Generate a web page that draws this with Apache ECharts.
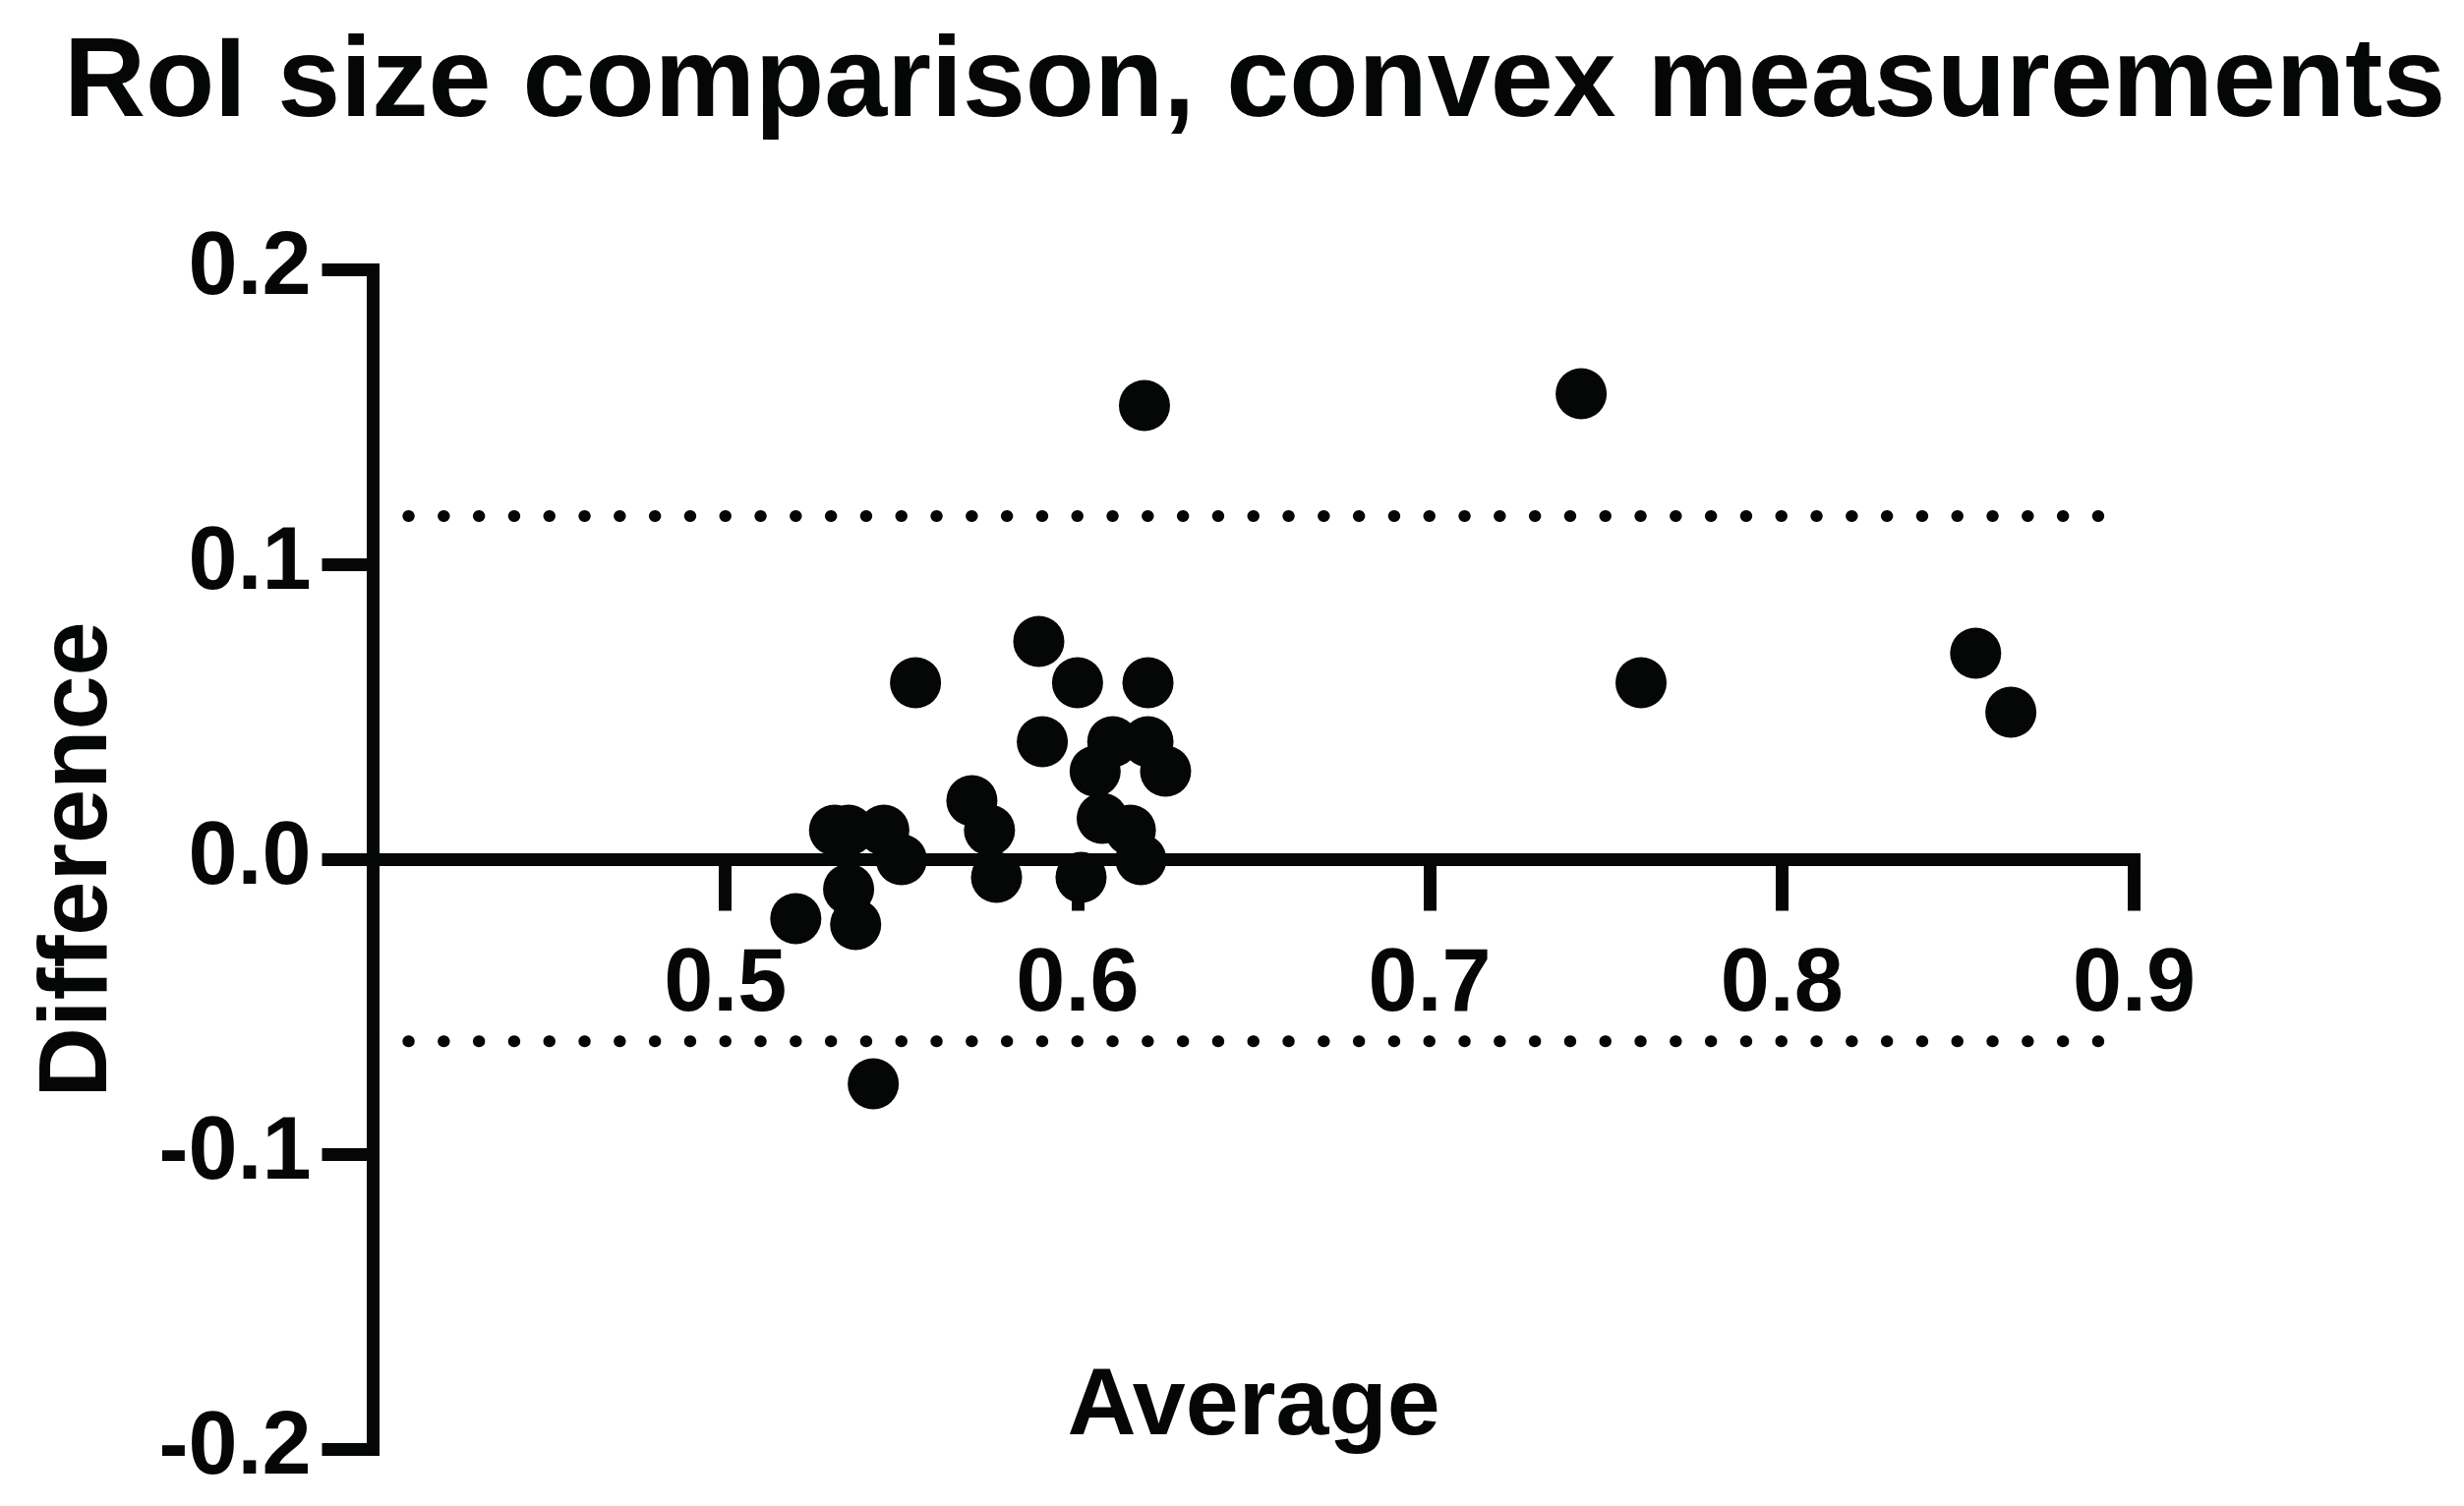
<!DOCTYPE html>
<html>
<head>
<meta charset="utf-8">
<script src="https://cdn.jsdelivr.net/npm/echarts@6/dist/echarts.min.js"></script>
<style>
html,body{margin:0;padding:0;background:#fff;}
#chart{width:2506px;height:1532px;}
</style>
</head>
<body>
<div id="chart"></div>
<script>
// ---- data ----
const titleText = 'RoI size comparison, convex measurements';
const xAxisName = 'Average';
const yAxisName = 'Difference';
const averageValues = [0.520, 0.531, 0.535, 0.545, 0.535, 0.537, 0.550, 0.542, 0.554, 0.570,
                       0.575, 0.577, 0.589, 0.590, 0.600, 0.601, 0.605, 0.607, 0.610, 0.615,
                       0.618, 0.620, 0.620, 0.625, 0.619, 0.743, 0.760, 0.855, 0.865];
const differenceValues = [-0.020, 0.010, 0.010, 0.010, -0.010, -0.022, 0.000, -0.076, 0.060, 0.020,
                          0.010, -0.006, 0.074, 0.040, 0.060, -0.006, 0.030, 0.014, 0.040, 0.010,
                          0.000, 0.040, 0.060, 0.030, 0.154, 0.158, 0.060, 0.070, 0.050];
const upperLimit = 0.1165;
const lowerLimit = -0.0616;
const limitRange = [0.4, 0.89];
const xTicks = [0.4, 0.5, 0.6, 0.7, 0.8, 0.9];
const xTickLabels = ['', '0.5', '0.6', '0.7', '0.8', '0.9'];
const yTicks = [-0.2, -0.1, 0.0, 0.1, 0.2];
const yTickLabels = ['-0.2', '-0.1', '0.0', '0.1', '0.2'];

// ---- chart ----
const INK = '#050706';
const FONT = "'Liberation Sans', Arial, Helvetica, sans-serif";
const points = averageValues.map((v, i) => [v, differenceValues[i]]);

const GRID_TOP = 274.5, GRID_BOTTOM_Y = 1474.5;
const ZERO_Y = (GRID_TOP + GRID_BOTTOM_Y) / 2; // y = 0 sits halfway for a symmetric axis

function labelFor(ticks, labels) {
  return function (v) {
    for (let i = 0; i < ticks.length; i++) {
      if (Math.abs(ticks[i] - v) < 1e-6) return labels[i];
    }
    return '';
  };
}

const chart = echarts.init(document.getElementById('chart'), null, {renderer: 'canvas'});
chart.setOption({
  backgroundColor: '#ffffff',
  animation: false,
  title: {
    text: titleText,
    left: 60,
    top: 24,
    textStyle: {fontFamily: FONT, fontWeight: 'bold', fontSize: 115, color: INK}
  },
  grid: {left: 379.5, right: 335.5, top: GRID_TOP, bottom: 1532 - GRID_BOTTOM_Y,
         containLabel: false, outerBoundsMode: 'none'},
  xAxis: {
    type: 'value',
    min: 0.4, max: 0.9, interval: 0.1,
    position: 'bottom',
    offset: -(GRID_BOTTOM_Y - ZERO_Y),
    name: xAxisName,
    nameLocation: 'middle',
    nameGap: 509,
    nameTextStyle: {fontFamily: FONT, fontWeight: 'bold', fontSize: 97, color: INK},
    axisLine: {show: true, onZero: false, lineStyle: {color: INK, width: 13, cap: 'square'}},
    axisTick: {show: true, inside: false, length: 52, lineStyle: {color: INK, width: 13}},
    axisLabel: {show: true, margin: 84, fontFamily: FONT, fontWeight: 'bold', fontSize: 90, color: INK,
                formatter: labelFor(xTicks, xTickLabels)},
    splitLine: {show: false}
  },
  yAxis: {
    type: 'value',
    min: -0.2, max: 0.2, interval: 0.1,
    name: yAxisName,
    nameLocation: 'middle',
    nameGap: 249,
    nameRotate: 90,
    nameTextStyle: {fontFamily: FONT, fontWeight: 'bold', fontSize: 99, color: INK},
    axisLine: {show: true, onZero: false, lineStyle: {color: INK, width: 13, cap: 'square'}},
    axisTick: {show: true, inside: false, length: 52, lineStyle: {color: INK, width: 13}},
    axisLabel: {show: true, margin: 63, fontFamily: FONT, fontWeight: 'bold', fontSize: 90, color: INK,
                formatter: labelFor(yTicks, yTickLabels)},
    splitLine: {show: false}
  },
  series: [
    {
      type: 'line',
      data: [[limitRange[0], upperLimit], [limitRange[1], upperLimit]],
      symbol: 'none',
      silent: true,
      lineStyle: {color: INK, width: 12, type: [0.5, 35.3], cap: 'round'},
      z: 1
    },
    {
      type: 'line',
      data: [[limitRange[0], lowerLimit], [limitRange[1], lowerLimit]],
      symbol: 'none',
      silent: true,
      lineStyle: {color: INK, width: 12, type: [0.5, 35.3], cap: 'round'},
      z: 1
    },
    {
      type: 'scatter',
      data: points,
      symbol: 'circle',
      symbolSize: 52,
      itemStyle: {color: INK, opacity: 1},
      z: 3
    }
  ]
});
</script>
</body>
</html>
